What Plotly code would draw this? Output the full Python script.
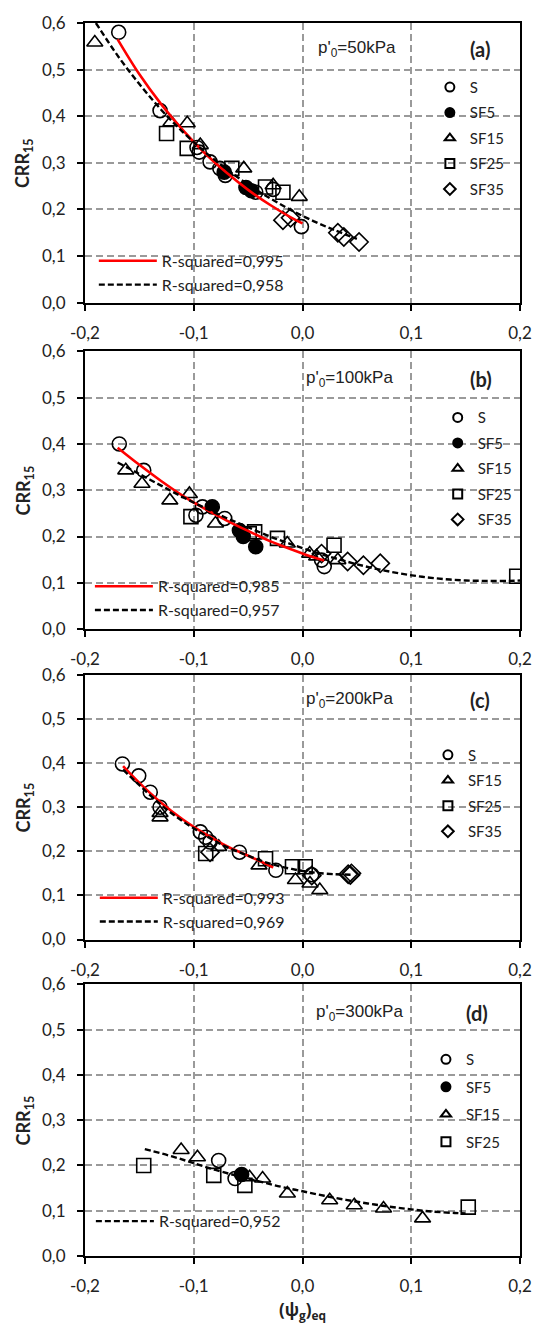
import plotly.graph_objects as go

# ---------------- data ----------------
x_tickvals = [-0.2, -0.1, 0.0, 0.1, 0.2]
x_ticktext = ["-0,2", "-0,1", "0,0", "0,1", "0,2"]
y_tickvals = [0.0, 0.1, 0.2, 0.3, 0.4, 0.5, 0.6]
y_ticktext = ["0,0", "0,1", "0,2", "0,3", "0,4", "0,5", "0,6"]

# Panel (a) p'0 = 50 kPa
a_S_x = [-0.169, -0.131, -0.097, -0.095, -0.085, -0.076, -0.071, -0.043, -0.027, -0.001]
a_S_y = [0.580, 0.412, 0.333, 0.323, 0.302, 0.288, 0.273, 0.237, 0.243, 0.163]
a_SF5_x = [-0.072, -0.052, -0.047]
a_SF5_y = [0.280, 0.247, 0.240]
a_SF15_x = [-0.191, -0.121, -0.106, -0.094, -0.054, -0.027, -0.003]
a_SF15_y = [0.558, 0.387, 0.385, 0.338, 0.288, 0.252, 0.227]
a_SF25_x = [-0.125, -0.106, -0.065, -0.034, -0.018]
a_SF25_y = [0.363, 0.331, 0.288, 0.248, 0.237]
a_SF35_x = [-0.018, -0.011, 0.0325, 0.038, 0.052]
a_SF35_y = [0.177, 0.182, 0.150, 0.141, 0.130]
a_fit1_x = [-0.17, -0.15, -0.13, -0.11, -0.09, -0.07, -0.05, -0.03, -0.01, 0.0]
a_fit1_y = [0.565, 0.490, 0.426, 0.370, 0.321, 0.279, 0.242, 0.210, 0.182, 0.170]
a_fit2_x = [-0.19, -0.17, -0.15, -0.13, -0.11, -0.09, -0.07, -0.05, -0.03, -0.01, 0.01, 0.03, 0.05]
a_fit2_y = [0.600, 0.530, 0.469, 0.414, 0.366, 0.324, 0.287, 0.253, 0.224, 0.198, 0.175, 0.155, 0.137]
a_r2 = ["R-squared=0,995", "R-squared=0,958"]

# Panel (b) p'0 = 100 kPa
b_S_x = [-0.1685, -0.146, -0.098, -0.092, -0.0715, 0.0175, 0.020]
b_S_y = [0.400, 0.343, 0.246, 0.264, 0.239, 0.149, 0.135]
b_SF5_x = [-0.083, -0.058, -0.0545, -0.043]
b_SF5_y = [0.264, 0.213, 0.200, 0.178]
b_SF15_x = [-0.1625, -0.1476, -0.122, -0.104, -0.080, -0.014, 0.0066, 0.013, 0.0325]
b_SF15_y = [0.343, 0.314, 0.278, 0.292, 0.228, 0.185, 0.163, 0.157, 0.149]
b_SF25_x = [-0.1026, -0.049, -0.044, -0.023, 0.029, 0.197]
b_SF25_y = [0.243, 0.206, 0.210, 0.196, 0.181, 0.114]
b_SF35_x = [0.0175, 0.0415, 0.056, 0.0715]
b_SF35_y = [0.163, 0.146, 0.138, 0.142]
b_fit1_x = [-0.17, -0.15, -0.13, -0.11, -0.09, -0.07, -0.05, -0.03, -0.01, 0.01, 0.02]
b_fit1_y = [0.392, 0.355, 0.320, 0.288, 0.260, 0.235, 0.212, 0.190, 0.172, 0.155, 0.148]
b_fit2_x = [-0.17, -0.15, -0.13, -0.11, -0.09, -0.07, -0.05, -0.03, -0.01, 0.01, 0.03, 0.05,
            0.07, 0.09, 0.11, 0.13, 0.15, 0.17, 0.19, 0.20]
b_fit2_y = [0.360, 0.335, 0.310, 0.285, 0.262, 0.240, 0.220, 0.200, 0.183, 0.167, 0.153, 0.140,
            0.129, 0.120, 0.113, 0.108, 0.105, 0.104, 0.104, 0.105]
b_r2 = ["R-squared=0,985", "R-squared=0,957"]

# Panel (c) p'0 = 200 kPa
c_S_x = [-0.1656, -0.1506, -0.140, -0.131, -0.094, -0.089, -0.085, -0.058, -0.0245, 0.0085]
c_S_y = [0.398, 0.371, 0.334, 0.300, 0.244, 0.232, 0.221, 0.198, 0.157, 0.147]
c_SF15_x = [-0.131, -0.131, -0.077, -0.040, -0.0065, 0.0069, 0.0159]
c_SF15_y = [0.277, 0.287, 0.210, 0.168, 0.135, 0.127, 0.112]
c_SF25_x = [-0.089, -0.034, -0.0092, 0.0025]
c_SF25_y = [0.195, 0.183, 0.165, 0.165]
c_SF35_x = [-0.085, 0.0085, 0.042, 0.045, 0.044]
c_SF35_y = [0.198, 0.145, 0.148, 0.150, 0.146]
c_fit1_x = [-0.165, -0.15, -0.13, -0.11, -0.09, -0.07, -0.05, -0.03, -0.027]
c_fit1_y = [0.393, 0.355, 0.310, 0.272, 0.240, 0.212, 0.190, 0.167, 0.163]
c_fit2_x = [-0.165, -0.15, -0.13, -0.11, -0.09, -0.07, -0.05, -0.03, -0.01, 0.01, 0.03, 0.045]
c_fit2_y = [0.385, 0.350, 0.305, 0.268, 0.237, 0.210, 0.190, 0.172, 0.160, 0.152, 0.148, 0.147]
c_r2 = ["R-squared=0,993", "R-squared=0,969"]

# Panel (d) p'0 = 300 kPa
d_S_x = [-0.0771, -0.062]
d_S_y = [0.211, 0.171]
d_SF5_x = [-0.056]
d_SF5_y = [0.180]
d_SF15_x = [-0.1116, -0.0966, -0.0487, -0.0367, -0.0139, 0.025, 0.0476, 0.0745, 0.1104]
d_SF15_y = [0.234, 0.218, 0.174, 0.171, 0.138, 0.123, 0.112, 0.105, 0.083]
d_SF25_x = [-0.146, -0.0816, -0.053, 0.1524]
d_SF25_y = [0.200, 0.178, 0.156, 0.108]
d_fit2_x = [-0.145, -0.12, -0.10, -0.08, -0.06, -0.04, -0.02, 0.0, 0.02, 0.04, 0.06, 0.08,
            0.10, 0.12, 0.14, 0.15]
d_fit2_y = [0.236, 0.220, 0.205, 0.190, 0.177, 0.165, 0.153, 0.143, 0.133, 0.124, 0.116, 0.109,
            0.103, 0.098, 0.095, 0.094]
d_r2 = ["R-squared=0,952"]

pressure_labels = ["p'<sub>0</sub>=50kPa", "p'<sub>0</sub>=100kPa",
                   "p'<sub>0</sub>=200kPa", "p'<sub>0</sub>=300kPa"]
panel_labels = ["(a)", "(b)", "(c)", "(d)"]

# ---------------- styling ----------------
TICKFONT = dict(family="Lato", size=17, color="#222")
LEGFONT = dict(family="Lato", size=15, color="#222")
symbols = {
    "S": dict(symbol="circle-open", color="black"),
    "SF5": dict(symbol="circle", color="black"),
    "SF15": dict(symbol="triangle-up-open", color="black"),
    "SF25": dict(symbol="square-open", color="black"),
    "SF35": dict(symbol="diamond-open", color="black"),
}

# layout geometry (pixels)
W, H = 544, 1328
L, R, T, B = 85, 15, 17, 72
PW, PH = W - L - R, H - T - B
panels_px = [(17, 298), (347, 626), (672, 938), (983, 1256)]


def py2paper(py):
    return 1 - (py - T) / PH


def px2paper(px):
    return (px - L) / PW


fig = go.Figure()

panel_data = [
    dict(series=[("S", a_S_x, a_S_y), ("SF5", a_SF5_x, a_SF5_y), ("SF15", a_SF15_x, a_SF15_y),
                 ("SF25", a_SF25_x, a_SF25_y), ("SF35", a_SF35_x, a_SF35_y)],
         fits=[(a_fit1_x, a_fit1_y, "red"), (a_fit2_x, a_fit2_y, "black")], r2=a_r2,
         mleg=(437, 65, 3), lleg=(94, 239)),
    dict(series=[("S", b_S_x, b_S_y), ("SF5", b_SF5_x, b_SF5_y), ("SF15", b_SF15_x, b_SF15_y),
                 ("SF25", b_SF25_x, b_SF25_y), ("SF35", b_SF35_x, b_SF35_y)],
         fits=[(b_fit1_x, b_fit1_y, "red"), (b_fit2_x, b_fit2_y, "black")], r2=b_r2,
         mleg=(445, 397, 3), lleg=(90, 566)),
    dict(series=[("S", c_S_x, c_S_y), ("SF15", c_SF15_x, c_SF15_y),
                 ("SF25", c_SF25_x, c_SF25_y), ("SF35", c_SF35_x, c_SF35_y)],
         fits=[(c_fit1_x, c_fit1_y, "red"), (c_fit2_x, c_fit2_y, "black")], r2=c_r2,
         mleg=(435, 736, 3), lleg=(95, 879)),
    dict(series=[("S", d_S_x, d_S_y), ("SF5", d_SF5_x, d_SF5_y), ("SF15", d_SF15_x, d_SF15_y),
                 ("SF25", d_SF25_x, d_SF25_y)],
         fits=[(d_fit2_x, d_fit2_y, "black")], r2=d_r2,
         mleg=(433, 1042, 5), lleg=(91, 1204)),
]

layout_extra = {}
annotations = []
for i, pdict in enumerate(panel_data):
    n = i + 1
    xa = "x" if n == 1 else f"x{n}"
    ya = "y" if n == 1 else f"y{n}"
    mleg_name = f"legend{2 * n - 1}" if n > 1 else "legend"
    lleg_name = f"legend{2 * n}"
    for name, xs, ys in pdict["series"]:
        st = symbols[name]
        # data markers
        fig.add_trace(go.Scatter(
            x=xs, y=ys, mode="markers", name=name, xaxis=xa, yaxis=ya,
            showlegend=False, legendgroup=f"{n}{name}",
            marker=dict(symbol=st["symbol"], size=14, color=st["color"],
                        line=dict(color="black", width=1.6)),
        ))
        # legend entry (smaller symbol, no data)
        fig.add_trace(go.Scatter(
            x=[None], y=[None], mode="markers", name=name, xaxis=xa, yaxis=ya,
            legend=mleg_name, legendgroup=f"{n}{name}",
            marker=dict(symbol=st["symbol"], size=9, color=st["color"],
                        line=dict(color="black", width=2)),
        ))
    for (fx, fy, col), label in zip(pdict["fits"], pdict["r2"]):
        fig.add_trace(go.Scatter(
            x=fx, y=fy, mode="lines", name=label, xaxis=xa, yaxis=ya,
            legend=lleg_name, legendgroup=f"{n}{label}{col}",
            line=dict(color="#ff0000" if col == "red" else "black",
                      width=2.6 if col == "red" else 2.4,
                      dash="solid" if col == "red" else "6px,3px", shape="spline"),
        ))
    top, bot = panels_px[i]
    dom = [py2paper(bot), py2paper(top)]
    axis_common = dict(showline=True, linecolor="black", linewidth=2, mirror=True,
                       ticks="outside", ticklen=6, tickwidth=1.5, tickcolor="black",
                       showgrid=True, gridcolor="#9a9a9a", gridwidth=1.5,
                       griddash="7px,4px", zeroline=False, tickfont=TICKFONT)
    layout_extra["xaxis" if n == 1 else f"xaxis{n}"] = dict(
        axis_common, domain=[0, 1], anchor=ya, range=[-0.2, 0.2],
        tickvals=x_tickvals, ticktext=x_ticktext, ticklabelstandoff=8)
    layout_extra["yaxis" if n == 1 else f"yaxis{n}"] = dict(
        axis_common, domain=dom, anchor=xa, range=[0, 0.6],
        tickvals=y_tickvals, ticktext=y_ticktext, ticklabelstandoff=8)
    mx, my, gap = pdict["mleg"]
    layout_extra[mleg_name] = dict(
        x=px2paper(mx), y=py2paper(my), xanchor="left", yanchor="top",
        bgcolor="rgba(0,0,0,0)", font=LEGFONT, itemsizing="trace",
        tracegroupgap=gap, itemwidth=30)
    lx, ly = pdict["lleg"]
    layout_extra[lleg_name] = dict(
        x=px2paper(lx), y=py2paper(ly), xanchor="left", yanchor="top",
        bgcolor="rgba(0,0,0,0)", font=dict(family="Lato", size=16, color="#222"),
        tracegroupgap=0, itemwidth=58)
    yc = (top + bot) / 2
    annotations.append(dict(
        text="<b>CRR<sub>15</sub></b>", xref="paper", yref="paper",
        x=px2paper(23), y=py2paper(yc), textangle=-90, showarrow=False,
        font=dict(family="Lato", size=18, color="#222"), xanchor="center", yanchor="middle"))
    pl_y = [26, 28, 25, 29][i]
    annotations.append(dict(
        text=pressure_labels[i], xref="paper", yref="paper",
        x=px2paper([363, 355, 355, 365][i]), y=py2paper(top + pl_y),
        showarrow=False, font=dict(family="Liberation Sans", size=17, color="#222"),
        xanchor="center", yanchor="middle"))
    annotations.append(dict(
        text=f"<b>{panel_labels[i]}</b>", xref="paper", yref="paper",
        x=px2paper([488, 489, 488, 485][i]), y=py2paper(top + pl_y),
        showarrow=False, font=dict(family="Lato", size=20, color="#222"),
        xanchor="center", yanchor="middle"))

annotations.append(dict(
    text="<b>(ψ<sub>g</sub>)<sub>eq</sub></b>", xref="paper", yref="paper",
    x=px2paper(307), y=py2paper(1311), showarrow=False,
    font=dict(family="Open Sans", size=17, color="#222"), xanchor="center", yanchor="middle"))

fig.update_layout(
    width=W, height=H, margin=dict(l=L, r=R, t=T, b=B),
    paper_bgcolor="white", plot_bgcolor="white",
    separators=", ", showlegend=True, annotations=annotations,
    **layout_extra,
)

fig.write_html("out.html", config={"displayModeBar": False})
